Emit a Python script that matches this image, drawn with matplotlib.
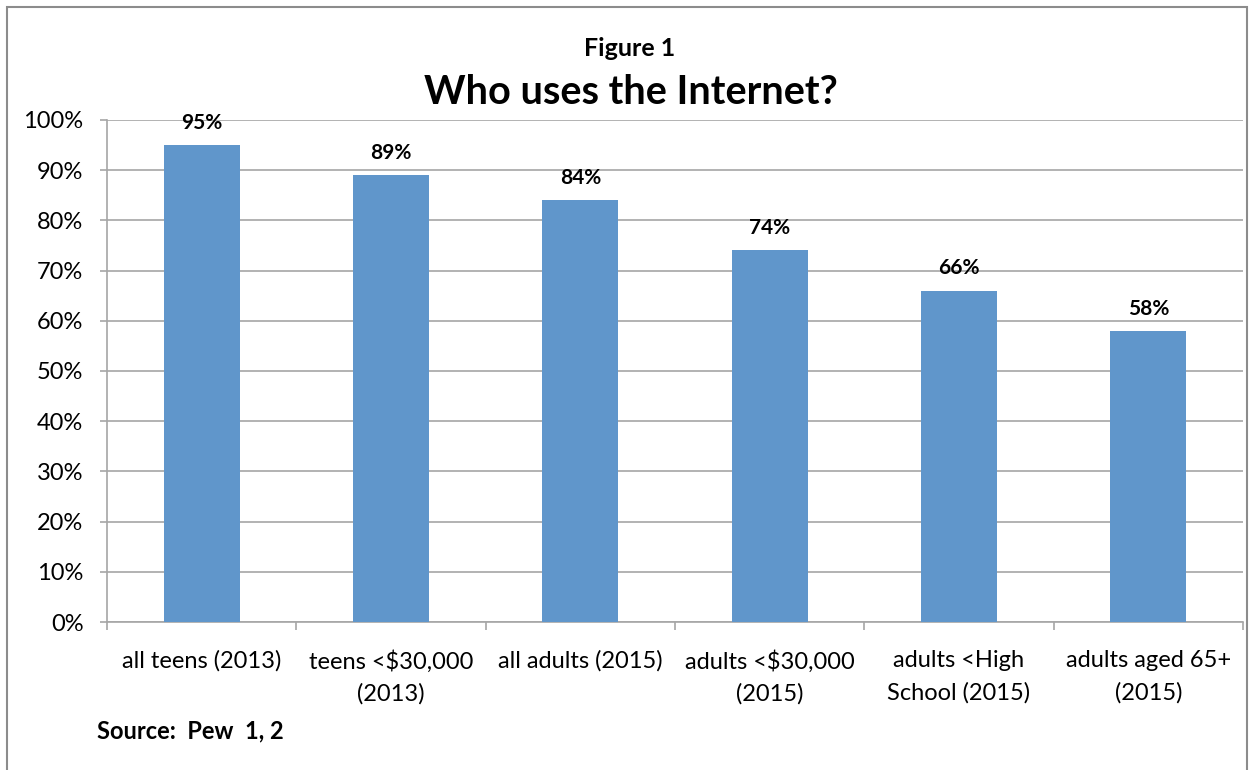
import matplotlib
matplotlib.use("Agg")
import matplotlib.pyplot as plt
from matplotlib.patches import Rectangle
from matplotlib.ticker import FixedLocator, PercentFormatter

plt.rcParams['font.family'] = ['Lato', 'DejaVu Sans']

categories = ["all teens (2013)", "teens <$30,000\n(2013)", "all adults (2015)",
              "adults <$30,000\n(2015)", "adults <High\nSchool (2015)", "adults aged 65+\n(2015)"]
values = [95, 89, 84, 74, 66, 58]
y_ticks = [0, 10, 20, 30, 40, 50, 60, 70, 80, 90, 100]

bar_color = "#6096CB"
grid_color = "#A6A6A6"
text_color = "#000000"

fig = plt.figure(figsize=(12.5, 7.7), dpi=100)
ax = fig.add_axes([0.0856, 0.1922, 0.9088, 0.652])

x = list(range(len(categories)))
ax.bar(x, values, width=0.4, color=bar_color, zorder=3)
ax.set_xlim(-0.5, len(categories) - 0.5)
ax.set_ylim(0, 100)

ax.set_yticks(y_ticks)
ax.yaxis.set_major_formatter(PercentFormatter(decimals=0))
ax.yaxis.grid(True, color=grid_color, linewidth=1.2, zorder=0)
ax.tick_params(axis='y', length=5, width=1.2, color=grid_color, labelsize=17, pad=12)

ax.set_xticks(x)
ax.set_xticklabels(categories, fontsize=17, linespacing=1.62)
ax.tick_params(axis='x', which='major', length=0, pad=20)
ax.xaxis.set_minor_locator(FixedLocator([i - 0.5 for i in range(len(categories) + 1)]))
ax.tick_params(axis='x', which='minor', length=6, width=1.2, color=grid_color)

for side in ("top", "right"):
    ax.spines[side].set_visible(False)
for side in ("left", "bottom"):
    ax.spines[side].set_color(grid_color)
    ax.spines[side].set_linewidth(1.2)

for xi, v in zip(x, values):
    ax.annotate(f"{v}%", (xi, v), xytext=(0, 16), textcoords="offset points",
                ha="center", va="center", fontsize=15, fontweight="bold", color=text_color)

fig.text(0.504, 1 - 48 / 770, "Figure 1", ha="center", va="center",
         fontsize=18, fontweight="bold")
fig.text(0.505, 1 - 92 / 770, "Who uses the Internet?", ha="center", va="center",
         fontsize=28.5, fontweight="bold")
fig.text(97 / 1250, 1 - 731 / 770, "Source:  Pew  1, 2", ha="left", va="center",
         fontsize=17, fontweight="bold")

fig.patches.append(Rectangle((7 / 1250, -0.01), (1247 - 7) / 1250, 1 - 7 / 770 + 0.01,
                             transform=fig.transFigure, fill=False,
                             edgecolor="#8C8C8C", linewidth=1.5))

fig.savefig("out.png", dpi=100)
